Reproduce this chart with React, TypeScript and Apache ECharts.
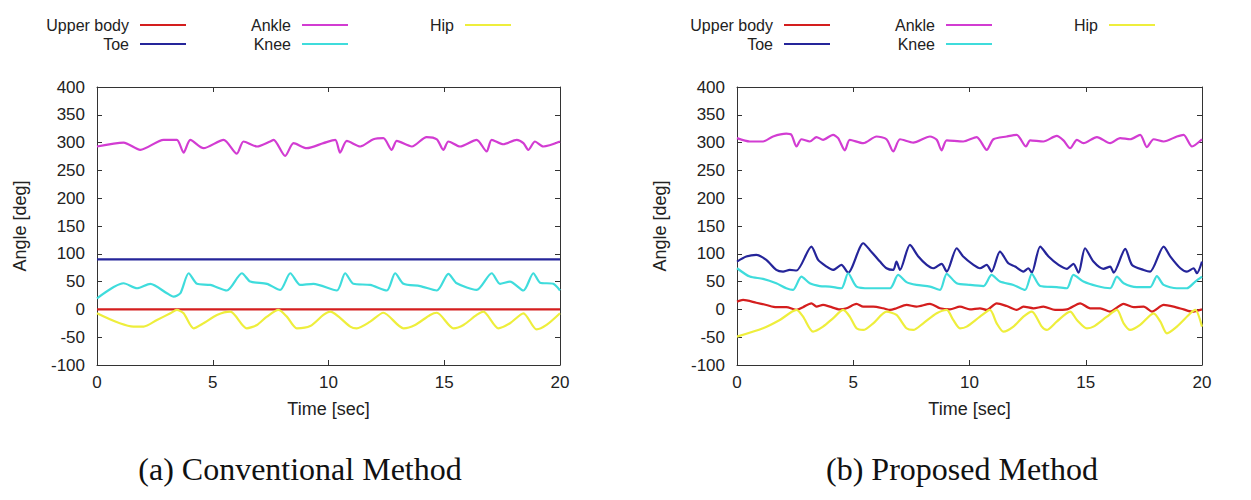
import React, { useEffect, useRef } from "react";
import * as echarts from "echarts";

// Joint angle traces, [time in sec, angle in deg]
// (a) Conventional Method
const upperBodyA: number[][] = [[0, 0], [20, 0]];
const toeA: number[][] = [[0, 90], [20, 90]];
const ankleA: number[][] = [[0,293],[1.15,300],[1.87,287],[2.88,305],[3.45,305],[3.74,282],[4.03,305],[4.6,290],[5.47,305],[6.04,280],[6.33,302],[6.91,293],[7.48,302],[7.63,305],[8.13,276],[8.49,299],[9.06,290],[9.78,299],[10.29,305],[10.5,282],[10.79,303],[11.37,293],[11.94,306],[12.37,308],[12.73,287],[12.95,303],[13.6,293],[14.24,310],[14.68,306],[14.96,287],[15.18,302],[15.68,293],[16.4,305],[16.83,284],[17.05,305],[17.55,297],[18.13,305],[18.42,299],[18.63,287],[18.92,302],[19.28,293],[20,302]];
const kneeA: number[][] = [[0,20],[1.15,47],[1.73,38],[2.3,46],[3.02,29],[3.31,23],[3.6,29],[3.96,65],[4.32,46],[4.89,44],[5.61,34],[6.26,65],[6.62,50],[7.34,46],[7.91,35],[8.35,65],[8.78,44],[9.35,46],[10.36,34],[10.72,65],[11.08,46],[11.8,44],[12.52,34],[12.88,65],[13.24,46],[13.96,42],[14.68,34],[15.18,64],[15.54,47],[16.4,35],[17.05,65],[17.41,46],[17.84,50],[18.42,34],[18.85,65],[19.14,48],[19.71,46],[20,34]];
const hipA: number[][] = [[0,-7],[1.58,-31],[2.01,-31],[2.59,-19],[3.17,-7],[3.45,-1],[3.74,-7],[4.17,-34],[4.6,-25],[5.18,-10],[5.76,-4],[6.47,-34],[6.91,-28],[7.34,-13],[7.84,-1],[8.2,-13],[8.63,-34],[9.21,-30],[9.78,-10],[10.07,-4],[10.94,-31],[11.22,-34],[11.8,-22],[12.37,-6],[13.24,-34],[13.74,-28],[14.39,-10],[14.68,-6],[15.4,-34],[15.83,-28],[16.4,-10],[16.69,-4],[17.34,-34],[17.84,-25],[18.42,-7],[18.99,-36],[19.42,-28],[20,-7]];

// (b) Proposed Method
const upperBodyB: number[][] = [[0,14],[0.26,17],[0.83,12],[1.26,8],[1.69,4],[2.12,4],[2.56,-1],[2.84,4],[3.2,11],[3.42,5],[3.7,8],[3.99,5],[4.42,0],[4.71,2],[5.14,10],[5.43,5],[5.86,5],[6.29,2],[6.58,-1],[6.86,2],[7.29,8],[7.72,5],[8.3,10],[8.73,2],[9.16,0],[9.59,5],[10.02,0],[10.45,2],[10.74,-1],[11.17,11],[11.6,6],[12.03,-1],[12.32,5],[12.75,2],[13.18,5],[13.68,-1],[14.19,0],[14.76,11],[15.19,2],[15.62,2],[16.05,-4],[16.63,10],[17.06,4],[17.49,5],[17.85,-4],[18.35,8],[18.78,5],[19.21,0],[19.57,-4],[20,0]];
const toeB: number[][] = [[0,86],[0.4,95],[0.83,98],[1.26,89],[1.69,71],[1.98,68],[2.27,71],[2.56,70],[3.2,113],[3.49,89],[3.85,77],[4.13,71],[4.49,80],[4.78,66],[5.43,119],[5.71,107],[6.15,86],[6.43,74],[6.72,71],[6.86,86],[7.01,71],[7.44,116],[7.8,95],[8.16,80],[8.44,74],[8.8,82],[9.02,68],[9.45,110],[9.73,95],[10.17,80],[10.45,74],[10.74,80],[10.95,68],[11.31,104],[11.67,83],[11.96,77],[12.32,68],[12.53,74],[12.68,66],[13.04,113],[13.4,95],[13.83,80],[14.19,73],[14.47,82],[14.69,66],[14.97,110],[15.33,86],[15.76,73],[16.05,77],[16.2,66],[16.7,109],[16.99,80],[17.49,71],[17.77,68],[18.35,113],[18.64,95],[19.07,74],[19.35,68],[19.64,74],[19.78,65],[20,86]];
const ankleB: number[][] = [[0,308],[0.55,302],[1.12,302],[1.55,311],[2.12,316],[2.34,314],[2.56,293],[2.77,306],[3.13,302],[3.42,310],[3.7,305],[4.13,314],[4.35,308],[4.64,286],[4.85,305],[5.43,299],[6,311],[6.43,306],[6.72,284],[7.01,306],[7.58,300],[8.3,311],[8.59,305],[8.8,286],[9.02,304],[9.73,302],[10.31,310],[10.74,287],[11.03,306],[11.6,311],[12.03,314],[12.43,293],[12.61,304],[13.18,302],[13.75,312],[14.04,304],[14.33,290],[14.62,305],[14.9,299],[15.48,310],[16.05,299],[16.48,308],[16.91,306],[17.34,314],[17.63,292],[17.92,306],[18.35,302],[18.92,311],[19.21,314],[19.57,293],[20,306]];
const kneeB: number[][] = [[0,74],[0.55,59],[1.12,55],[1.69,47],[2.12,38],[2.41,35],[2.77,59],[3.13,47],[3.56,42],[3.99,41],[4.49,38],[4.78,65],[5.14,41],[5.71,38],[6.58,38],[6.93,62],[7.29,49],[7.72,44],[8.3,41],[8.73,35],[9.02,64],[9.45,47],[10.02,44],[10.6,42],[10.95,62],[11.31,50],[11.89,44],[12.39,35],[12.68,64],[13.04,42],[13.75,40],[14.19,38],[14.47,62],[14.9,50],[15.48,42],[16.05,38],[16.34,59],[16.63,47],[17.2,40],[17.77,40],[18.06,60],[18.35,44],[18.92,38],[19.35,38],[19.71,50],[20,59]];
const hipB: number[][] = [[0,-49],[1.12,-34],[1.84,-19],[2.56,-1],[2.84,-13],[3.27,-40],[3.7,-31],[4.13,-16],[4.57,-1],[4.85,-13],[5.14,-34],[5.43,-37],[5.86,-25],[6.43,-4],[6.86,-10],[7.29,-34],[7.58,-37],[8.01,-25],[8.59,-7],[9.02,-1],[9.3,-19],[9.59,-34],[9.88,-31],[10.45,-13],[10.88,-1],[11.17,-25],[11.46,-40],[11.89,-31],[12.32,-13],[12.68,-4],[13.11,-31],[13.32,-37],[13.75,-22],[14.33,-4],[14.62,-19],[15.05,-34],[15.33,-31],[15.91,-13],[16.34,-1],[16.63,-25],[16.91,-37],[17.34,-28],[17.92,-7],[18.21,-22],[18.49,-43],[18.92,-31],[19.5,-7],[19.71,-1],[20,-31]];

const seriesNames = ["Upper body", "Toe", "Ankle", "Knee", "Hip"];
const captions = ["(a) Conventional Method", "(b) Proposed Method"];
const xAxisName = "Time [sec]";
const yAxisName = "Angle [deg]";
const timeRange = [0, 20, 5];
const angleRange = [-100, 400, 50];

const colors: Record<string, string> = {
  "Upper body": "#d41e1e",
  Toe: "#25259a",
  Ankle: "#d23cd2",
  Knee: "#3fdcdc",
  Hip: "#eeee3c",
};

const SANS = "'Liberation Sans', Arial, sans-serif";
const TEXT = "#222";
const FRAME = "#333";

export default function App() {
  const ref = useRef<HTMLDivElement>(null);

  useEffect(() => {
    if (!ref.current) return;
    const chart = echarts.init(ref.current, undefined, { renderer: "svg" });

    const panels = [
      { left: 97, width: 463, data: [upperBodyA, toeA, ankleA, kneeA, hipA], caption: captions[0], cx: 300, legendShift: 0 },
      { left: 737, width: 465, data: [upperBodyB, toeB, ankleB, kneeB, hipB], caption: captions[1], cx: 962, legendShift: 644 },
    ];

    const grids: any[] = [];
    const xAxes: any[] = [];
    const yAxes: any[] = [];
    const series: any[] = [];
    const legends: any[] = [];
    const graphics: any[] = [];

    const tick = { show: true, inside: true, length: 5, lineStyle: { color: FRAME, width: 1 } };
    const line = { show: true, onZero: false, lineStyle: { color: FRAME, width: 1 } };

    panels.forEach((p, gi) => {
      grids.push({ left: p.left, top: 87, width: p.width, height: 278, containLabel: false });
      const xBase = {
        type: "value",
        gridIndex: gi,
        min: timeRange[0],
        max: timeRange[1],
        interval: timeRange[2],
        splitLine: { show: false },
        axisLine: line,
        axisTick: tick,
      };
      xAxes.push({
        ...xBase,
        position: "bottom",
        axisLabel: { show: true, color: TEXT, fontFamily: SANS, fontSize: 17, margin: 9 },
        name: xAxisName,
        nameLocation: "middle",
        nameGap: 35,
        nameTextStyle: { color: TEXT, fontFamily: SANS, fontSize: 18 },
      });
      xAxes.push({ ...xBase, position: "top", axisLabel: { show: false } });

      const yBase = {
        type: "value",
        gridIndex: gi,
        min: angleRange[0],
        max: angleRange[1],
        interval: angleRange[2],
        splitLine: { show: false },
        axisLine: line,
        axisTick: tick,
      };
      yAxes.push({
        ...yBase,
        position: "left",
        axisLabel: { show: true, color: TEXT, fontFamily: SANS, fontSize: 17, margin: 12 },
        name: yAxisName,
        nameLocation: "middle",
        nameRotate: 90,
        nameGap: 68,
        nameTextStyle: { color: TEXT, fontFamily: SANS, fontSize: 18 },
      });
      yAxes.push({ ...yBase, position: "right", axisLabel: { show: false } });

      p.data.forEach((d, si) => {
        const name = seriesNames[si];
        series.push({
          type: "line",
          name,
          xAxisIndex: gi * 2,
          yAxisIndex: gi * 2,
          data: d,
          showSymbol: false,
          symbol: "none",
          smooth: 0.25,
          lineStyle: { color: colors[name], width: 2.2, join: "round" },
          itemStyle: { color: colors[name] },
          z: 2 + si,
        });
      });

      // key layout: text right-aligned, sample line to its right
      const keyCols = [
        { names: ["Upper body", "Toe"], lineEnd: 186 },
        { names: ["Ankle", "Knee"], lineEnd: 348 },
        { names: ["Hip"], lineEnd: 511 },
      ];
      keyCols.forEach((col) => {
        col.names.forEach((n, row) => {
          legends.push({
            data: [n],
            orient: "vertical",
            align: "right",
            right: 1251 - (col.lineEnd + p.legendShift),
            top: 17 + row * 19,
            padding: 0,
            icon: "rect",
            itemWidth: 46,
            itemHeight: 2,
            selectedMode: false,
            textStyle: { color: TEXT, fontFamily: SANS, fontSize: 16, padding: [0, 6, 0, 0] },
          });
        });
      });

      graphics.push({
        type: "text",
        x: p.cx,
        y: 469,
        style: {
          text: p.caption,
          font: "32px 'Liberation Serif', 'Times New Roman', serif",
          fill: "#111",
          align: "center",
          verticalAlign: "middle",
        },
      });
    });

    chart.setOption({
      animation: false,
      backgroundColor: "#ffffff",
      grid: grids,
      xAxis: xAxes,
      yAxis: yAxes,
      legend: legends,
      series,
      graphic: graphics,
    });

    return () => chart.dispose();
  }, []);

  return (
    <div
      ref={ref}
      style={{ position: "absolute", left: 0, top: 0, width: 1251, height: 500, background: "#fff" }}
    />
  );
}
